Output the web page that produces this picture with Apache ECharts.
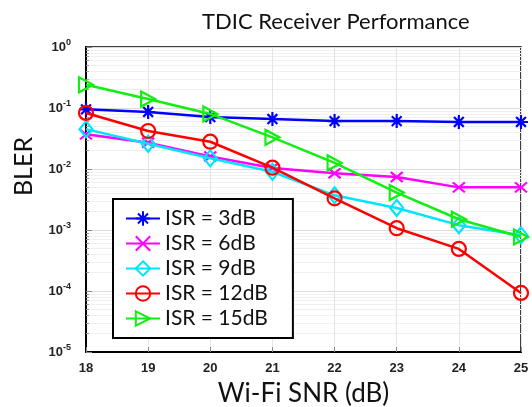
<!DOCTYPE html>
<html><head><meta charset="utf-8">
<script src="https://cdn.jsdelivr.net/npm/echarts@6/dist/echarts.min.js"></script>
<style>html,body{margin:0;padding:0;background:#fff}#c{width:532px;height:407px}</style>
</head><body><div id="c"></div>
<script>
const snr = [18, 19, 20, 21, 22, 23, 24, 25];
const isr3  = [0.095, 0.086, 0.071, 0.066, 0.061, 0.061, 0.059, 0.059];
const isr6  = [0.037, 0.027, 0.016, 0.0104, 0.0085, 0.0074, 0.005, 0.005];
const isr9  = [0.045, 0.026, 0.015, 0.009, 0.0037, 0.0023, 0.0012, 0.00082];
const isr12 = [0.083, 0.042, 0.028, 0.0105, 0.0033, 0.00107, 0.00049, 0.000093];
const isr15 = [0.24, 0.14, 0.080, 0.033, 0.0126, 0.0041, 0.0015, 0.00077];
const names = ['ISR = 3dB', 'ISR = 6dB', 'ISR = 9dB', 'ISR = 12dB', 'ISR = 15dB'];
const colors = ['#0000ff', '#ff00ff', '#00e5ff', '#ff0000', '#11ee11'];
const symbols = [
  'path://M0,5L10,5M5,0L5,10M1.5,1.5L8.5,8.5M8.5,1.5L1.5,8.5',
  'path://M1,1L9,9M9,1L1,9',
  'path://M5,0L10,5L5,10L0,5Z',
  'circle',
  'path://M0,0L10,5L0,10Z'
];
const sizes = [[14,14],[12,10],[13,16],[14,14],[14,15]];
const allData = [isr3, isr6, isr9, isr12, isr15];

const chart = echarts.init(document.getElementById('c'), null, {renderer: 'canvas'});
const series = allData.map((d, i) => ({
  name: names[i],
  type: 'line',
  data: snr.map((x, j) => [x, d[j]]),
  symbol: symbols[i],
  symbolSize: sizes[i],
  showAllSymbol: true,
  lineStyle: {color: colors[i], width: 2.5},
  itemStyle: {color: 'rgba(255,255,255,0)', borderColor: colors[i], borderWidth: 2.2},
  emphasis: {disabled: true},
  z: 3 + i
}));

chart.setOption({
  animation: false,
  backgroundColor: '#fff',
  title: {
    text: 'TDIC Receiver Performance',
    left: 197, top: 6,
    textStyle: {fontFamily: 'Lato', fontWeight: 'normal', fontSize: 22, color: '#111'}
  },
  grid: {left: 86, right: 11, top: 47, bottom: 55, containLabel: false, outerBoundsMode: 'none',
    show: true, borderColor: '#000', borderWidth: 1.5, backgroundColor: 'transparent'},
  legend: {
    orient: 'vertical',
    left: 113, top: 199,
    padding: [9, 25, 9, 12],
    itemWidth: 34, itemHeight: 18, itemGap: 4,
    backgroundColor: '#fff',
    borderColor: '#000', borderWidth: 2,
    textStyle: {fontFamily: 'Lato', fontSize: 21, color: '#111'},
    data: names
  },
  xAxis: {
    type: 'value', min: 18, max: 25, interval: 1,
    name: 'Wi-Fi SNR (dB)', nameLocation: 'middle', nameGap: 29,
    nameTextStyle: {fontFamily: 'Lato', fontSize: 26, color: '#111'},
    axisLine: {lineStyle: {color: '#000', width: 2}},
    axisTick: {inside: true, length: 5, lineStyle: {color: '#888'}},
    axisLabel: {fontFamily: 'Liberation Sans', fontWeight: 'bold', fontSize: 13, color: '#222', margin: 10},
    splitLine: {show: true, lineStyle: {color: '#e4e4e4', width: 1}}
  },
  yAxis: {
    type: 'log', logBase: 10, min: 1e-5, max: 1,
    name: 'BLER', nameLocation: 'middle', nameGap: 50,
    nameTextStyle: {fontFamily: 'Lato', fontSize: 25, color: '#111', padding: [0, 0, 0, 66]},
    axisLine: {show: true, lineStyle: {color: '#000', width: 2}},
    axisTick: {inside: true, length: 6, lineStyle: {color: '#888'}},
    minorTick: {show: true, splitNumber: 9, length: 3, lineStyle: {color: '#999'}},
    minorSplitLine: {show: true, lineStyle: {color: '#f0f0f0'}},
    splitLine: {show: true, lineStyle: {color: '#dcdcdc'}},
    axisLabel: {
      margin: 15,
      formatter: v => '{b|10}{s|' + Math.round(Math.log10(v)) + '}',
      rich: {
        b: {fontFamily: 'Liberation Sans', fontWeight: 'bold', fontSize: 13, color: '#222'},
        s: {fontFamily: 'Liberation Sans', fontWeight: 'bold', fontSize: 9, color: '#222', verticalAlign: 'bottom', padding: [0, 0, 9, 0]}
      }
    }
  },
  series: series
});
</script></body></html>
